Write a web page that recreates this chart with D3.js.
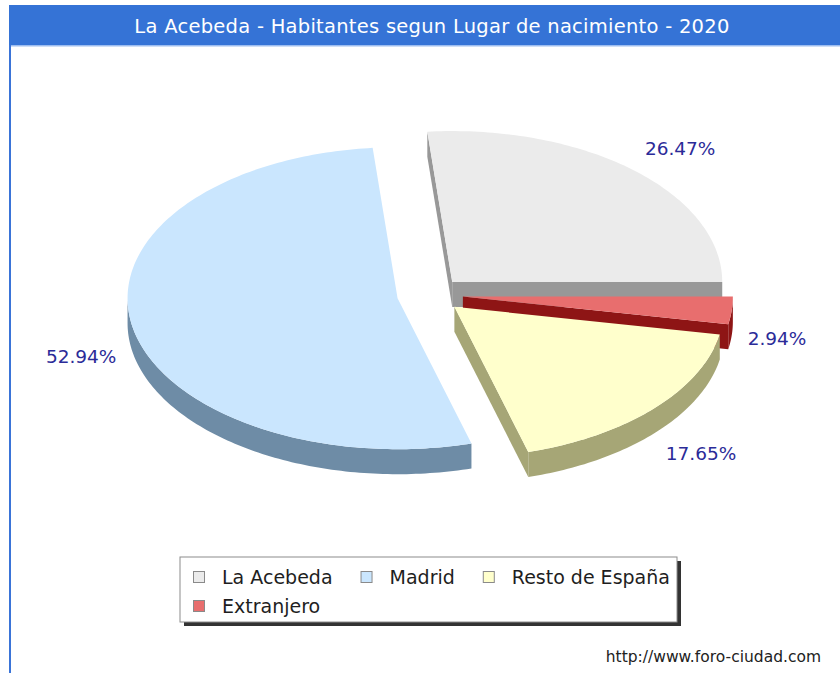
<!DOCTYPE html>
<html>
<head>
<meta charset="utf-8">
<script src="https://cdn.jsdelivr.net/npm/d3@7"></script>
<style>
  html, body { margin: 0; padding: 0; background: #ffffff; }
  svg { display: block; }
</style>
</head>
<body>
<svg id="chart" width="840" height="673"></svg>
<script>
// Population of La Acebeda by place of birth, 2020
const titleText = "La Acebeda - Habitantes segun Lugar de nacimiento - 2020";
const categories = ["La Acebeda", "Madrid", "Resto de España", "Extranjero"];
const values = [9, 18, 6, 1];
const topColors = ["#EBEBEB", "#CAE6FE", "#FFFFCC", "#E86E6E"];
const sideColors = ["#989898", "#6E8CA6", "#A6A676", "#8E1515"];
const footerText = "http://www.foro-ciudad.com";

const W = 840, H = 673;
const svg = d3.select("#chart");

// frame and title band
svg.append("rect").attr("x", 9).attr("y", 5).attr("width", W - 9).attr("height", H - 5)
  .attr("fill", "#ffffff");
svg.append("rect").attr("x", 9).attr("y", 45).attr("width", 2).attr("height", H - 45)
  .attr("fill", "#3A74D8");
svg.append("rect").attr("x", 9).attr("y", 5).attr("width", W - 9).attr("height", 40)
  .attr("fill", "#3573D6");
svg.append("rect").attr("x", 11).attr("y", 45).attr("width", W - 11).attr("height", 1.5)
  .attr("fill", "#9DBDF0");
const title = svg.append("text")
  .attr("x", 432).attr("y", 26)
  .attr("text-anchor", "middle").attr("dominant-baseline", "central")
  .attr("font-family", "'DejaVu Sans', sans-serif")
  .attr("font-size", 19.5).attr("fill", "#ffffff")
  .text(titleText);
// spread the title to the width of the band text
{
  const w = title.node().getComputedTextLength();
  const target = 595;
  title.attr("letter-spacing", ((target - w) / (titleText.length - 1)).toFixed(3));
}

// 3D pie geometry
const cx = 430, cy = 295;       // pie centre
const rx = 270, ry = 151;       // ellipse radii
const depth = 25;               // slab thickness
const explodeX = 33, explodeY = 17.5;
const total = d3.sum(values);

// angles run counter-clockwise from 3 o'clock
const arcs = d3.pie().sort(null).startAngle(0).endAngle(2 * Math.PI)(values);

const slices = arcs.map((a, i) => {
  const mid = (a.startAngle + a.endAngle) / 2;
  return {
    i, a0: a.startAngle, a1: a.endAngle, mid,
    ox: cx + explodeX * Math.cos(mid),
    oy: cy - explodeY * Math.sin(mid)
  };
});

const pt = (s, t, dy = 0) => [s.ox + rx * Math.cos(t), s.oy - ry * Math.sin(t) + dy];
const arcPts = (s, t0, t1, dy = 0) => {
  const n = Math.max(2, Math.ceil(Math.abs(t1 - t0) / (Math.PI / 180)));
  return d3.range(n + 1).map(k => pt(s, t0 + (t1 - t0) * k / n, dy));
};
const poly = d3.line().curve(d3.curveLinearClosed);

const g = svg.append("g");
// back slices first
const order = slices.slice().sort((p, q) => Math.sin(q.mid) - Math.sin(p.mid));

order.forEach(s => {
  const top = topColors[s.i], side = sideColors[s.i];
  const c0 = [s.ox, s.oy], c1 = [s.ox, s.oy + depth];
  // radial cut faces facing the viewer
  if (Math.cos(s.a0) > 0) {
    const p = pt(s, s.a0), q = pt(s, s.a0, depth);
    g.append("path").attr("d", poly([c0, p, q, c1])).attr("fill", side);
  }
  if (Math.cos(s.a1) < 0) {
    const p = pt(s, s.a1), q = pt(s, s.a1, depth);
    g.append("path").attr("d", poly([c0, p, q, c1])).attr("fill", side);
  }
  // front part of the curved rim
  const f0 = Math.max(s.a0, Math.PI), f1 = Math.min(s.a1, 2 * Math.PI);
  if (f1 > f0) {
    const upper = arcPts(s, f0, f1);
    const lower = arcPts(s, f1, f0, depth);
    g.append("path").attr("d", poly(upper.concat(lower))).attr("fill", side);
  }
  // top face
  g.append("path").attr("d", poly([c0].concat(arcPts(s, s.a0, s.a1)))).attr("fill", top);
});

// percentage labels outside each slice
const gap = 16, gapY = 30;
slices.forEach(s => {
  const c = Math.cos(s.mid), sn = Math.sin(s.mid);
  const x = s.ox + (rx + gap) * c;
  const y = s.oy - (ry + gapY) * sn + (sn < 0 ? depth : 0);
  svg.append("text")
    .attr("x", x).attr("y", y)
    .attr("text-anchor", c >= 0 ? "start" : "end")
    .attr("dominant-baseline", "central")
    .attr("font-family", "'DejaVu Sans', sans-serif")
    .attr("font-size", 18.5).attr("fill", "#2B2B98")
    .text((values[s.i] / total * 100).toFixed(2) + "%");
});

// legend
const leg = svg.append("g");
const legX = 180, legY = 557, legW = 497, legH = 65;
leg.append("rect").attr("x", legX + 4).attr("y", legY + 4).attr("width", legW).attr("height", legH)
  .attr("fill", "#333333");
leg.append("rect").attr("x", legX).attr("y", legY).attr("width", legW).attr("height", legH)
  .attr("fill", "#ffffff").attr("stroke", "#8C8C8C").attr("stroke-width", 1);

const perRow = 3;
const legFont = 19;
const measure = leg.append("text").attr("font-family", "'DejaVu Sans', sans-serif").attr("font-size", legFont);
const widths = categories.map(t => { measure.text(t); return measure.node().getComputedTextLength(); });
measure.remove();
const colW = d3.range(perRow).map(c => d3.max(widths.filter((_, i) => i % perRow === c)));
const colX = [legX + 13];
for (let c = 1; c < perRow; c++) colX.push(colX[c - 1] + 12 + 17 + colW[c - 1] + 28);

categories.forEach((name, i) => {
  const col = i % perRow, row = Math.floor(i / perRow);
  const x = colX[col], y = legY + 20 + row * 29;
  leg.append("rect").attr("x", x + 0.5).attr("y", y - 5.5).attr("width", 11).attr("height", 11)
    .attr("fill", topColors[i]).attr("stroke", "#8A8A8A").attr("stroke-width", 1);
  leg.append("text").attr("x", x + 29).attr("y", y)
    .attr("dominant-baseline", "central")
    .attr("font-family", "'DejaVu Sans', sans-serif").attr("font-size", legFont)
    .attr("fill", "#1E1E1E")
    .text(name);
});

// source line
svg.append("text")
  .attr("x", 821).attr("y", 657)
  .attr("text-anchor", "end").attr("dominant-baseline", "central")
  .attr("font-family", "'DejaVu Sans', sans-serif").attr("font-size", 15.5)
  .attr("fill", "#222222")
  .text(footerText);
</script>
</body>
</html>
